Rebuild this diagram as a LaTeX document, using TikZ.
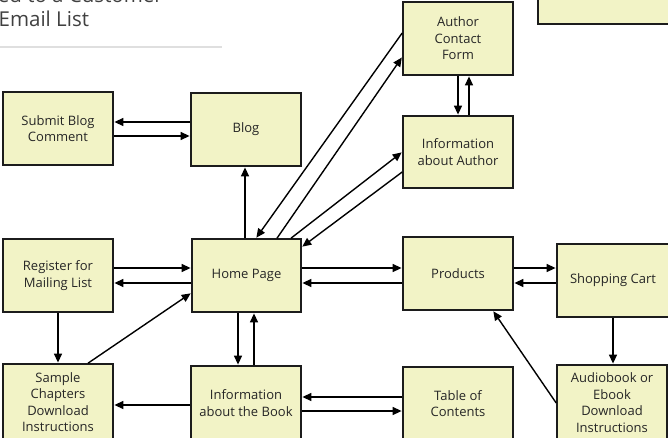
\documentclass[tikz,border=0pt]{standalone}
\usepackage{fontspec}
\setmainfont{Open Sans}
\usetikzlibrary{arrows.meta}
\definecolor{boxfill}{RGB}{242,243,198}
\definecolor{boxline}{RGB}{28,28,28}
\definecolor{titlegray}{RGB}{64,64,64}
\begin{document}
\begin{tikzpicture}[x=1pt,y=-1pt,
  blk/.style={draw=boxline, line width=1.6pt, fill=boxfill, align=center,
    text=black!85, inner sep=0pt, minimum width=110pt, minimum height=73pt,
    font=\fontsize{13}{16.5}\selectfont},
  arr/.style={draw=black, line width=1.4pt,
    -{Triangle[length=9pt,width=8pt]}, shorten >=0.6pt},
  titletext/.style={text=titlegray, inner sep=0pt,
    font=\fontsize{20.5}{25}\selectfont}]
\useasboundingbox (0,0) rectangle (668,438);

% heading
\node[titletext, anchor=base east] (headA) at (163,3) {Added to a Customer};
\node[titletext, anchor=base west] (headB) at (-1.5,27) {Email List};
\draw[gray!25, line width=2pt] (0,47) -- (222,47);

% pages
\node[blk, minimum width=162pt, minimum height=54pt] (corner) at (619,-3) {};
\node[blk] (sub)   at (58,128.5)  {Submit Blog\\Comment};
\node[blk] (blog)  at (246,129.5) {Blog};
\node[blk] (acf)   at (458,38.5)  {Author\\Contact\\Form};
\node[blk, minimum height=72pt] (iau) at (458,152) {Information\\about Author};
\node[blk] (reg)   at (58,275.5)  {Register for\\Mailing List};
\node[blk, minimum width=109pt] (home) at (246.5,275.5) {Home Page};
\node[blk] (prod)  at (458,273.5) {Products};
\node[blk, minimum width=112pt] (cart) at (613,280.5) {Shopping Cart};
\node[blk, minimum height=76pt] (samp) at (58,402) {Sample\\Chapters\\Download\\Instructions};
\node[blk, minimum height=74pt] (infob) at (246,403) {Information\\about the Book};
\node[blk] (toc)   at (458,403.5) {Table of\\Contents};
\node[blk, minimum height=75pt] (audio) at (612,402.5) {Audiobook or\\Ebook\\Download\\Instructions};

% blog links
\draw[arr] (blog.west |- 0,122) -- (sub.east |- 0,122);
\draw[arr] (sub.east |- 0,136) -- (blog.west |- 0,136);
\draw[arr] (home.north -| 245,0) -- (blog.south -| 245,0);

% author links
\draw[arr] (acf.west |- 0,33) -- (home.north -| 256,0);
\draw[arr] (home.north -| 277,0) -- (acf.west |- 0,57);
\draw[arr] (home.north -| 291,0) -- (iau.west |- 0,152);
\draw[arr] (iau.west |- 0,172) -- (home.east |- 0,247);
\draw[arr] (acf.south -| 458,0) -- (iau.north -| 458,0);
\draw[arr] (iau.north -| 469,0) -- (acf.south -| 469,0);

% mailing list and samples
\draw[arr] (reg.east |- 0,268) -- (home.west |- 0,268);
\draw[arr] (home.west |- 0,283) -- (reg.east |- 0,283);
\draw[arr] (reg.south -| 58,0) -- (samp.north -| 58,0);
\draw[arr] (samp.north -| 88,0) -- (home.west |- 0,293);

% book information
\draw[arr] (home.south -| 238,0) -- (infob.north -| 238,0);
\draw[arr] (infob.north -| 254,0) -- (home.south -| 254,0);
\draw[arr] (infob.west |- 0,405) -- (samp.east |- 0,405);
\draw[arr] (toc.west |- 0,397) -- (infob.east |- 0,397);
\draw[arr] (infob.east |- 0,411) -- (toc.west |- 0,411);

% shop
\draw[arr] (home.east |- 0,268) -- (prod.west |- 0,268);
\draw[arr] (prod.west |- 0,283) -- (home.east |- 0,283);
\draw[arr] (prod.east |- 0,268) -- (cart.west |- 0,268);
\draw[arr] (cart.west |- 0,283) -- (prod.east |- 0,283);
\draw[arr] (cart.south -| 613,0) -- (audio.north -| 613,0);
\draw[arr] (audio.west |- 0,403) -- (prod.south -| 493,0);
\end{tikzpicture}
\end{document}
